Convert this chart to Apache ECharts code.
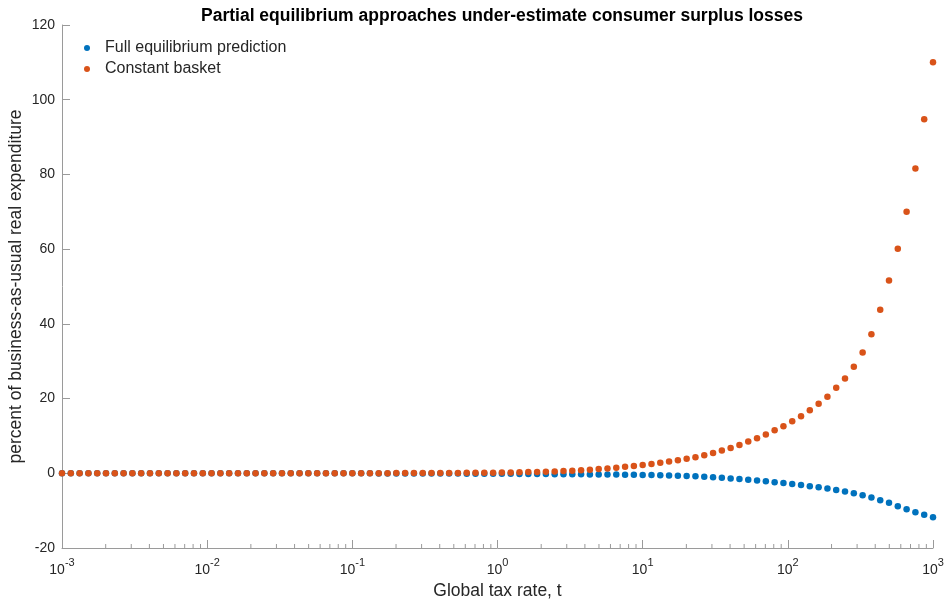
<!DOCTYPE html>
<html>
<head>
<meta charset="utf-8">
<script src="https://cdn.jsdelivr.net/npm/echarts@6/dist/echarts.min.js"></script>
<style>html,body{margin:0;padding:0;background:#fff}#c{width:947px;height:602px}</style>
</head>
<body>
<div id="c"></div>
<script>
// Global tax rate, t (100 log-spaced samples from 1e-3 to 1e3)
const taxRate = [
  0.001,0.00115,0.001322,0.00152,0.001748,0.002009,0.00231,0.002656,0.003054,0.003511,
  0.004037,0.004642,0.005337,0.006136,0.007055,0.008111,0.009326,0.01072,0.01233,0.01417,
  0.0163,0.01874,0.02154,0.02477,0.02848,0.03275,0.03765,0.04329,0.04977,0.05722,
  0.06579,0.07565,0.08697,0.1,0.115,0.1322,0.152,0.1748,0.2009,0.231,
  0.2656,0.3054,0.3511,0.4037,0.4642,0.5337,0.6136,0.7055,0.8111,0.9326,
  1.072,1.233,1.417,1.63,1.874,2.154,2.477,2.848,3.275,3.765,
  4.329,4.977,5.722,6.579,7.565,8.697,10,11.5,13.22,15.2,
  17.48,20.09,23.1,26.56,30.54,35.11,40.37,46.42,53.37,61.36,
  70.55,81.11,93.26,107.2,123.3,141.7,163,187.4,215.4,247.7,
  284.8,327.5,376.5,432.9,497.7,572.2,657.9,756.5,869.7,1000
];
// Full equilibrium prediction (%)
const fullEquilibrium = [
  0,0,0,0,0,0,0,0,0,0,
  0,0,0,0,0,0,0,0,0,0,
  0,0,0,0,0,0,0,0,0,0,
  -0.01,-0.01,-0.01,-0.02,-0.02,-0.02,-0.03,-0.03,-0.04,-0.04,
  -0.05,-0.05,-0.06,-0.07,-0.08,-0.09,-0.1,-0.11,-0.12,-0.13,
  -0.14,-0.15,-0.17,-0.18,-0.2,-0.21,-0.23,-0.25,-0.26,-0.28,
  -0.3,-0.31,-0.32,-0.33,-0.37,-0.4,-0.43,-0.47,-0.52,-0.58,
  -0.65,-0.73,-0.82,-0.92,-1.05,-1.2,-1.37,-1.55,-1.74,-1.94,
  -2.15,-2.37,-2.62,-2.88,-3.16,-3.45,-3.75,-4.08,-4.45,-4.88,
  -5.33,-5.86,-6.48,-7.2,-7.9,-8.8,-9.6,-10.4,-11.1,-11.8
];
// Constant basket (%)
const constantBasket = [
  0,0,0,0,0,0,0,0,0,0,
  0,0,0,0,0,0,0,0,0,0,
  0.01,0.01,0.01,0.01,0.01,0.01,0.01,0.01,0.01,0.01,
  0.02,0.02,0.02,0.03,0.03,0.03,0.04,0.04,0.05,0.05,
  0.06,0.07,0.07,0.08,0.09,0.1,0.11,0.13,0.15,0.17,
  0.2,0.23,0.27,0.32,0.37,0.44,0.51,0.6,0.7,0.82,
  0.96,1.12,1.3,1.5,1.72,1.96,2.22,2.5,2.8,3.15,
  3.5,3.9,4.3,4.8,5.4,6.1,6.8,7.6,8.5,9.4,
  10.4,11.5,12.6,13.9,15.3,16.9,18.6,20.5,22.9,25.4,
  28.5,32.3,37.2,43.8,51.6,60.1,70.0,81.6,94.8,110.0
];
const yTicks = [-20, 0, 20, 40, 60, 80, 100, 120];
const xDecades = [-3, -2, -1, 0, 1, 2, 3];
const minorMultiples = [2, 3, 4, 5, 6, 7, 8, 9];

const seriesNames = ['Full equilibrium prediction', 'Constant basket'];
const colors = ['#0072BD', '#D95319'];
const axisGrey = '#9a9a9a';
const textDark = '#262626';
const font = 'Liberation Sans, Arial, Helvetica, sans-serif';

// minor tick positions (axis decoration)
const minorTicks = [];
for (let d = 0; d < xDecades.length - 1; d++) {
  for (const m of minorMultiples) minorTicks.push([m * Math.pow(10, xDecades[d]), yTicks[0]]);
}

const chart = echarts.init(document.getElementById('c'), null, { renderer: 'canvas' });
chart.setOption({
  animation: false,
  backgroundColor: '#fff',
  title: {
    text: 'Partial equilibrium approaches under-estimate consumer surplus losses',
    left: 497, top: 2, textAlign: 'center',
    textStyle: { fontFamily: font, fontSize: 17.5, fontWeight: 'bold', color: '#000' }
  },
  legend: {
    data: seriesNames,
    orient: 'vertical', left: 79, top: 35, itemGap: 5,
    itemWidth: 26, itemHeight: 6, icon: 'circle',
    textStyle: { fontFamily: font, fontSize: 16, color: textDark }
  },
  grid: { left: 62, right: 14, top: 25, bottom: 54, containLabel: false, outerBoundsMode: 'none' },
  xAxis: {
    type: 'log', logBase: 10,
    min: Math.pow(10, xDecades[0]), max: Math.pow(10, xDecades[xDecades.length - 1]),
    splitNumber: 6,
    name: 'Global tax rate, t', nameLocation: 'middle', nameGap: 31,
    nameTextStyle: { fontFamily: font, fontSize: 17.5, color: textDark },
    axisLine: { show: true, onZero: false, lineStyle: { color: axisGrey, width: 1 } },
    axisTick: { show: true, inside: true, length: 8, lineStyle: { color: axisGrey } },
    splitLine: { show: false },
    axisLabel: {
      margin: 5,
      formatter: function (v) {
        const e = Math.round(Math.log10(v));
        return '{b|10}{s|' + e + '}';
      },
      rich: {
        b: { fontFamily: font, fontSize: 14, color: textDark, lineHeight: 24, verticalAlign: 'bottom', padding: [0, 0, 0, 0] },
        s: { fontFamily: font, fontSize: 11, color: textDark, lineHeight: 24, verticalAlign: 'bottom', padding: [0, 0, 9, 0] }
      }
    }
  },
  yAxis: {
    type: 'value', min: yTicks[0], max: yTicks[yTicks.length - 1], interval: 20,
    name: 'percent of business-as-usual real expenditure', nameLocation: 'middle', nameGap: 37,
    nameMoveOverlap: false,
    nameTextStyle: { fontFamily: font, fontSize: 17.5, color: textDark },
    axisLine: { show: true, onZero: false, lineStyle: { color: axisGrey, width: 1 } },
    axisTick: { show: true, inside: true, length: 8, lineStyle: { color: axisGrey } },
    splitLine: { show: false },
    axisLabel: { fontFamily: font, fontSize: 14, color: textDark, margin: 7 }
  },
  series: [
    {
      type: 'custom', name: 'minorTicks', silent: true, clip: false, z: 1,
      data: minorTicks,
      renderItem: function (params, api) {
        const p = api.coord([api.value(0), api.value(1)]);
        return { type: 'line', shape: { x1: p[0], y1: p[1], x2: p[0], y2: p[1] - 4 },
                 style: { stroke: axisGrey, lineWidth: 1 } };
      }
    },
    {
      type: 'scatter', name: seriesNames[0], symbol: 'circle', symbolSize: 6.5,
      itemStyle: { color: colors[0], opacity: 1 },
      data: taxRate.map((x, i) => [x, fullEquilibrium[i]])
    },
    {
      type: 'scatter', name: seriesNames[1], symbol: 'circle', symbolSize: 6.5,
      itemStyle: { color: colors[1], opacity: 1 },
      data: taxRate.map((x, i) => [x, constantBasket[i]])
    }
  ]
});
</script>
</body>
</html>
